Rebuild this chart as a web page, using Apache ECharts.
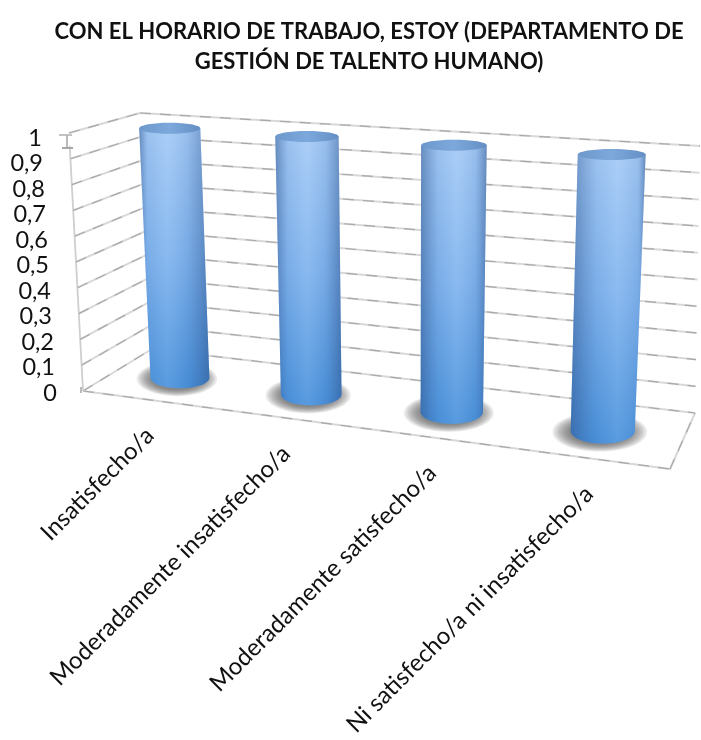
<!DOCTYPE html>
<html><head><meta charset="utf-8">
<style>html,body{margin:0;padding:0;background:#fff}#c{width:701px;height:740px}</style>
<script src="https://cdn.jsdelivr.net/npm/echarts@6/dist/echarts.min.js"></script>
</head><body><div id="c"></div>
<script>
const titleText = 'CON EL HORARIO DE TRABAJO, ESTOY (DEPARTAMENTO DE\nGESTIÓN DE TALENTO HUMANO)';
const categories = ['Insatisfecho/a','Moderadamente insatisfecho/a','Moderadamente satisfecho/a','Ni satisfecho/a ni insatisfecho/a'];
const values = [1,1,1,1];
const yTicks = [0,0.1,0.2,0.3,0.4,0.5,0.6,0.7,0.8,0.9,1];

// 3D box corners (front/back, left/right, bottom/top) used by the projection
const FLB=[83,391],FRB=[670,469],BLB=[152,349],BRB=[695,413];
const FLT=[69,133],FRT=[690,170],BLT=[140,113],BRT=[700,146];
const K=0.15;
function mix(a,b,t){return [a[0]+(b[0]-a[0])*t,a[1]+(b[1]-a[1])*t];}
function project(u,v,w){
  const uu=u/(1+K*(1-u));
  const fb=mix(FLB,FRB,uu),ft=mix(FLT,FRT,uu),bb=mix(BLB,BRB,uu),bt=mix(BLT,BRT,uu);
  return mix(mix(fb,ft,v),mix(bb,bt,v),w);
}
function norm(params,api,pt){
  const r=params.coordSys;
  return {u:(pt[0]-r.x)/r.width,v:(r.y+r.height-pt[1])/r.height};
}
function seg(a,b,color,width,dash){
  return {type:'line',shape:{x1:a[0],y1:a[1],x2:b[0],y2:b[1]},
    style:{stroke:color,lineWidth:width,lineDash:dash||null,fill:null},silent:true};
}
function gridLine(a,b,out){
  out.push(seg(a,b,'#d8d8d8',2));
  out.push(seg(a,b,'#a8a8a8',1.2,[11,9]));
}
function renderWall(params,api){
  const n=norm(params,api,api.coord([0,api.value(0)]));
  const v=n.v,out=[];
  gridLine(project(0,v,0),project(0,v,1),out);
  gridLine(project(0,v,1),project(1,v,1),out);
  if(v<0.001){
    gridLine(project(0,0,0),project(1,0,0),out);
    gridLine(project(1,0,0),project(1,0,1),out);
    out.push(seg(project(0,0,0),project(0,0.95,0),'#cfcfcf',1.8));
    const t=project(0,1,0),m=[t[0]-2,t[1]+15];
    out.push(seg([t[0]-2,t[1]+2],m,'#a9a9a9',1.6));
    out.push(seg([t[0]-10,t[1]+2],[t[0]+3,t[1]+2],'#b5b5b5',1.6));
    out.push(seg([t[0]-7,t[1]+15],[t[0]+4,t[1]+15],'#a9a9a9',2));
    const b=project(0,0,0);
    out.push(seg([b[0]-2,b[1]-4],[b[0]-2,b[1]+2],'#aaaaaa',1.6));
  }
  return {type:'group',children:out};
}
function renderColumn(params,api){
  const i=api.value(0),val=api.value(1);
  const n=norm(params,api,api.coord([i,val]));
  const u=n.u,v=n.v;
  const T=project(u,v,0.5),B=project(u,0,0.5);
  T[1]+=1.5;
  const rxB=29+3.5*u,rxT=30+4.5*u,ryT=5.5,ryB=10+3*u;
  const pts=[[T[0]-rxT,T[1]],[T[0]+rxT,T[1]]];
  for(let a=0;a<=24;a++){
    const th=Math.PI*a/24;
    pts.push([B[0]+rxB*Math.cos(th),B[1]+ryB*Math.sin(th)]);
  }
  const hl=0.36+0.3*u;
  const kids=[];
  for(let k=0;k<9;k++){
    const s=1-k*0.045;
    kids.push({type:'ellipse',shape:{cx:B[0]-3,cy:B[1]+1,rx:(rxB+10+6*u)*s,ry:(ryB+7)*s},
      style:{fill:'rgba(80,80,80,0.115)'},silent:true});
  }
  kids.push({type:'polygon',shape:{points:pts},style:{fill:{type:'linear',x:0,y:0,x2:0,y2:1,colorStops:[
      {offset:0,color:'#a4caf6'},{offset:0.5,color:'#7fb3ee'},{offset:1,color:'#4a92dc'}]}},silent:true});
  kids.push({type:'polygon',shape:{points:pts},style:{fill:{type:'linear',x:0,y:0,x2:1,y2:0,colorStops:[
      {offset:0,color:'rgba(35,70,125,0.48)'},{offset:Math.max(0.08,hl-0.28),color:'rgba(50,90,150,0.08)'},
      {offset:hl,color:'rgba(255,255,255,0.08)'},{offset:Math.min(0.92,hl+0.28),color:'rgba(50,90,150,0.10)'},
      {offset:1,color:'rgba(35,70,125,0.48)'}]}},silent:true});
  kids.push({type:'ellipse',shape:{cx:T[0],cy:T[1],rx:rxT,ry:ryT},
    style:{fill:{type:'linear',x:0,y:0,x2:1,y2:0,colorStops:[
      {offset:0,color:'#6c98cc'},{offset:0.5,color:'#7da8dc'},{offset:1,color:'#638fc4'}]}},silent:true});
  return {type:'group',children:kids};
}
function renderLabel(params,api){
  const i=api.value(0);
  const n=norm(params,api,api.coord([i,0]));
  const p=project(n.u,0,0);
  return {type:'text',x:p[0]+2,y:p[1]+32,rotation:Math.PI/4,silent:true,
    style:{text:categories[i],align:'right',verticalAlign:'middle',fill:'#111',
      font:'24px Lato, Carlito, sans-serif'}};
}
const rich={};
yTicks.forEach(t=>{rich['t'+Math.round(t*10)]={fontSize:23.5,fontFamily:'Lato, Carlito, sans-serif',color:'#111',padding:[0,Math.round(15*t),0,0]};});

const chart=echarts.init(document.getElementById('c'),null,{renderer:'canvas'});
chart.setOption({
  animation:false,
  backgroundColor:'#fff',
  title:{text:titleText,left:364,top:12,textAlign:'center',
    textStyle:{fontFamily:'Lato, Carlito, sans-serif',fontWeight:'bold',fontSize:22,lineHeight:30,color:'#111'}},
  grid:{left:60,top:138,width:640,height:255},
  xAxis:{type:'category',data:categories,axisLine:{show:false},axisTick:{show:false},axisLabel:{show:false},splitLine:{show:false}},
  yAxis:{type:'value',min:0,max:1,interval:0.1,axisLine:{show:false},axisTick:{show:false},splitLine:{show:false},
    axisLabel:{margin:3,formatter:function(val){
      const k=Math.round(val*10);
      return '{t'+k+'|'+String(k===10?1:k===0?0:'0,'+k)+'}';
    },rich:rich}},
  series:[
    {type:'custom',name:'walls',z:1,coordinateSystem:'cartesian2d',renderItem:function(p,a){return renderWall(p,{coord:function(c){return a.coord([0,c[1]]);},value:a.value});},
      encode:{y:0},data:yTicks.map(t=>[t])},
    {type:'custom',name:'Con el horario de trabajo',z:2,coordinateSystem:'cartesian2d',renderItem:renderColumn,
      encode:{x:0,y:1},data:values.map((v,i)=>[i,v])},
    {type:'custom',name:'labels',z:3,coordinateSystem:'cartesian2d',renderItem:renderLabel,
      encode:{x:0},data:categories.map((c,i)=>[i])}
  ]
});
</script></body></html>
